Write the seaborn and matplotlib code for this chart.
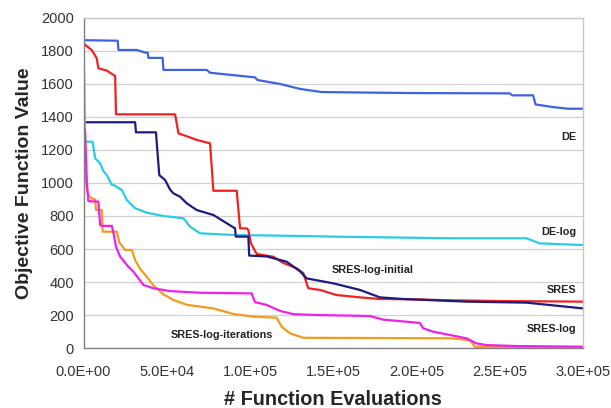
import matplotlib
matplotlib.use("Agg")
import matplotlib.pyplot as plt
import seaborn as sns
import pandas as pd
from matplotlib.ticker import FuncFormatter, MultipleLocator

# ---- data ----
de_x = [0, 2000, 20500, 21000, 32000, 37000, 38500, 39000, 47500, 48000, 74000, 76000,
        103000, 104500, 118000, 130000, 143000, 196000, 256000, 257500, 270000, 271500,
        282000, 291000, 300000]
de_y = [1865, 1865, 1862, 1806, 1806, 1790, 1790, 1758, 1758, 1685, 1685, 1668,
        1640, 1624, 1600, 1570, 1551, 1545, 1543, 1531, 1531, 1476, 1460, 1450, 1450]

delog_x = [1500, 5500, 7000, 10000, 12000, 14000, 17000, 18000, 23000, 26000, 31000, 38000,
           48000, 60000, 64000, 70000, 90000, 130000, 150000, 220000, 266000, 274000, 300000]
delog_y = [1250, 1250, 1149, 1119, 1071, 1048, 988, 988, 958, 897, 847, 820,
           800, 786, 735, 695, 685, 679, 675, 665, 665, 634, 624]

sres_x = [0, 2300, 4900, 7900, 8900, 14000, 19000, 19500, 55000, 57000, 62000, 68000,
          76000, 78000, 92000, 94000, 98000, 99000, 100500, 104000, 114000, 120000,
          128000, 132000, 135000, 142000, 152000, 166000, 178000, 200000, 216000, 248000, 300000]
sres_y = [1846, 1826, 1806, 1756, 1695, 1681, 1648, 1416, 1416, 1301, 1283, 1261,
          1240, 953, 953, 725, 725, 715, 636, 570, 553, 515,
          483, 454, 362, 352, 321, 307, 297, 295, 290, 285, 281]

sli_x = [0, 31000, 31500, 43500, 44500, 45500, 49000, 52000, 54000, 58000, 62000, 68000,
         78000, 86000, 91000, 91500, 99000, 99500, 110000, 122000, 130000, 134000,
         150000, 166000, 178000, 192000, 230000, 266000, 300000]
sli_y = [1368, 1368, 1307, 1307, 1176, 1048, 1018, 960, 937, 917, 877, 836,
         806, 756, 725, 675, 675, 560, 555, 523, 465, 422,
         392, 352, 307, 297, 281, 275, 240]

sliter_x = [0, 600, 1200, 2000, 2900, 4900, 7000, 7500, 11000, 11500, 20000, 21500,
            23000, 25000, 29000, 31000, 34000, 38000, 42000, 48000, 54000, 62000,
            78000, 90000, 102000, 116000, 119000, 124000, 132000, 220000, 232000, 235000, 300000]
sliter_y = [1880, 1500, 1100, 960, 927, 907, 900, 836, 836, 705, 705, 640,
            620, 594, 594, 533, 480, 432, 380, 325, 291, 262,
            240, 206, 190, 184, 129, 89, 62, 59, 48, 8, 5]

slog_x = [0, 900, 2000, 2900, 8900, 10000, 10900, 17000, 18000, 19500, 22000, 26000,
          30000, 36000, 42000, 52000, 70000, 101000, 103000, 110000, 118000, 126000,
          140000, 172000, 180000, 202000, 204000, 210000, 220000, 230000, 236000,
          242000, 260000, 300000]
slog_y = [1330, 1321, 1000, 890, 887, 745, 740, 740, 695, 614, 554, 503,
          462, 382, 362, 345, 335, 331, 278, 261, 225, 205,
          200, 194, 172, 152, 120, 99, 79, 59, 28,
          18, 12, 8]

series = [
    ("DE", de_x, de_y, "#3f62e0"),
    ("DE-log", delog_x, delog_y, "#2bcbe8"),
    ("SRES", sres_x, sres_y, "#ee2222"),
    ("SRES-log-initial", sli_x, sli_y, "#1c1c7e"),
    ("SRES-log-iterations", sliter_x, sliter_y, "#f29b1f"),
    ("SRES-log", slog_x, slog_y, "#ee22e6"),
]

labels = ["DE", "DE-log", "SRES-log-initial", "SRES", "SRES-log", "SRES-log-iterations"]
label_x = [295800, 295800, 173900, 295800, 295800, 83200]
label_y = [1279, 703, 473, 352, 115, 79]
label_ha = ["right", "right", "center", "right", "right", "center"]

x_ticks = [0, 50000, 100000, 150000, 200000, 250000, 300000]

# ---- plot ----
sns.set_style("white")
plt.rcParams["font.family"] = ["Liberation Sans", "DejaVu Sans"]

fig = plt.figure(figsize=(6.11, 4.08), dpi=100)
ax = fig.add_axes([0.1367, 0.147, 0.8175, 0.809])

for name, xs, ys, col in series:
    df = pd.DataFrame({"x": xs, "y": ys})
    sns.lineplot(data=df, x="x", y="y", color=col, linewidth=1.6, ax=ax,
                 sort=False, estimator=None)

ax.set_xlim(0, 300000)
ax.set_ylim(0, 2000)
ax.yaxis.set_major_locator(MultipleLocator(200))
ax.set_xticks(x_ticks)
ax.xaxis.set_major_formatter(FuncFormatter(lambda v, p: f"{v:.1E}"))
ax.grid(axis="y", color="#d0d0d0", linewidth=0.9)
ax.set_axisbelow(True)

for s in ["top", "right"]:
    ax.spines[s].set_color("#c8c8c8")
    ax.spines[s].set_linewidth(1.0)
for s in ["left", "bottom"]:
    ax.spines[s].set_color("#808080")
    ax.spines[s].set_linewidth(1.0)

ax.tick_params(axis="both", which="major", direction="out", length=4, width=1,
               color="#808080", labelsize=10.5, labelcolor="#333333", pad=3)
ax.tick_params(axis="x", pad=8)

ax.set_xlabel("# Function Evaluations", fontsize=14.3, fontweight="bold", labelpad=8)
ax.set_ylabel("Objective Function Value", fontsize=14, fontweight="bold", labelpad=6)

for t, lx, ly, ha in zip(labels, label_x, label_y, label_ha):
    ax.text(lx, ly, t, fontsize=7.8, fontweight="bold", ha=ha, va="center", color="#222222")

fig.savefig("out.png", dpi=100)
